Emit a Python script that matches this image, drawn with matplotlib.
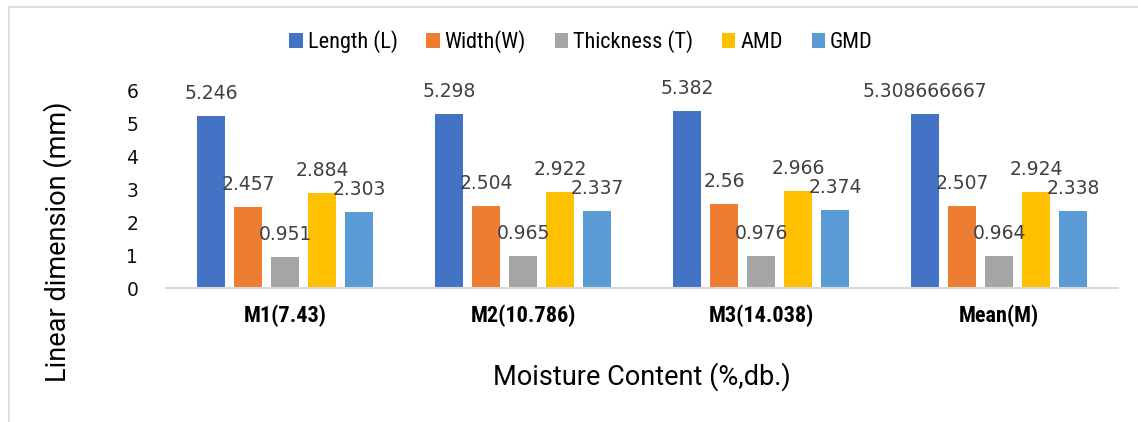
import matplotlib
matplotlib.use("Agg")
import matplotlib.pyplot as plt
import numpy as np
from matplotlib.patches import Rectangle

categories = ["M1(7.43)", "M2(10.786)", "M3(14.038)", "Mean(M)"]
series_names = ["Length (L)", "Width(W)", "Thickness (T)", "AMD", "GMD"]
length_vals = [5.246, 5.298, 5.382, 5.308666667]
width_vals = [2.457, 2.504, 2.56, 2.507]
thickness_vals = [0.951, 0.965, 0.976, 0.964]
amd_vals = [2.884, 2.922, 2.966, 2.924]
gmd_vals = [2.303, 2.337, 2.374, 2.338]
label_texts = [
    ["5.246", "5.298", "5.382", "5.308666667"],
    ["2.457", "2.504", "2.56", "2.507"],
    ["0.951", "0.965", "0.976", "0.964"],
    ["2.884", "2.922", "2.966", "2.924"],
    ["2.303", "2.337", "2.374", "2.338"],
]
colors = ["#4472C4", "#ED7D31", "#A5A5A5", "#FFC000", "#5B9BD5"]
y_ticks = [0, 1, 2, 3, 4, 5, 6]

all_series = [length_vals, width_vals, thickness_vals, amd_vals, gmd_vals]

COND = ["Roboto Condensed", "DejaVu Sans"]
ROB = ["Roboto", "DejaVu Sans"]

fig = plt.figure(figsize=(11.38, 4.22), dpi=100)
ax = fig.add_axes([166/1138, 1-288/422, (1118-166)/1138, (288-91)/422])

# frame border
fig.patches.append(Rectangle((9/1138, -0.1), 1.2, 1 - 7/422 + 0.1, transform=fig.transFigure,
                             fill=False, edgecolor="#D9D9D9", linewidth=1.2))

x = np.arange(len(categories))
slot = 0.1555
bw = 0.118
for i, (vals, name, c) in enumerate(zip(all_series, series_names, colors)):
    pos = x + (i - 2) * slot
    bars = ax.bar(pos, vals, width=bw, color=c, label=name, zorder=2)
    for b, t in zip(bars, label_texts[i]):
        ax.annotate(t, (b.get_x() + b.get_width()/2, b.get_height()),
                    xytext=(0, 12.2), textcoords="offset points",
                    ha="center", va="baseline", fontsize=13.5, color="#404040")

ax.set_xlim(-0.5, len(categories) - 0.5)
ax.set_ylim(0, 6)
ax.set_yticks(y_ticks)
ax.set_yticklabels([str(v) for v in y_ticks], fontsize=13.5, color="#111111")
ax.set_xticks(x)
ax.set_xticklabels(categories, fontsize=16, fontweight="bold", color="black", family=COND)
ax.tick_params(axis="y", length=0, pad=20)
ax.tick_params(axis="x", length=0, pad=12)
for s in ["top", "right", "left"]:
    ax.spines[s].set_visible(False)
ax.spines["bottom"].set_color("#D9D9D9")
ax.spines["bottom"].set_linewidth(1.5)

fig.text(642/1138, 1-377/422, "Moisture Content (%,db.)", ha="center", va="center",
         fontsize=19.5, family=ROB, color="black")
fig.text(58/1138, 1-242/422, "Linear dimension (mm)", ha="center", va="center", rotation=90,
         fontsize=19.5, family=ROB, color="black")

fig.legend(loc="center", bbox_to_anchor=(581/1138, 1-42/422), ncol=5, frameon=False,
           prop={"family": COND, "size": 16},
           handlelength=0.6, handleheight=0.6, handletextpad=0.22,
           columnspacing=1.3)

fig.savefig("out.png", dpi=100)
